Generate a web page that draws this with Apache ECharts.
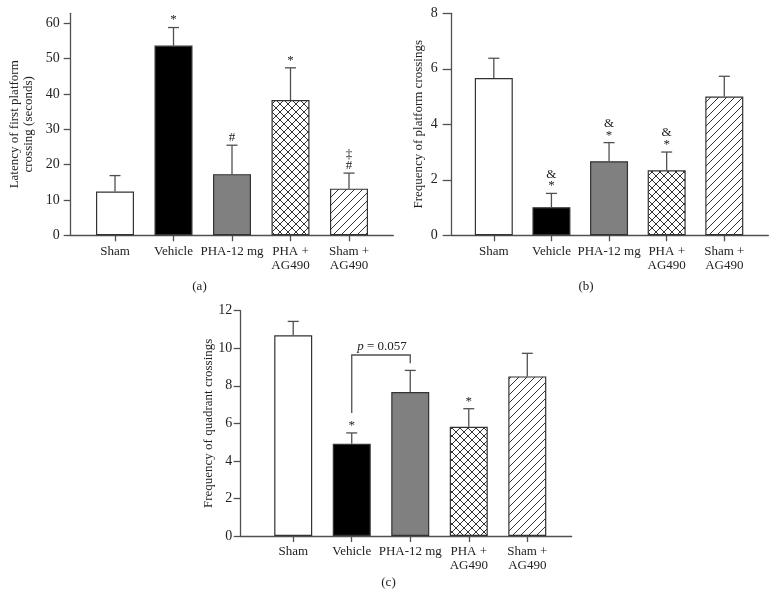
<!DOCTYPE html>
<html>
<head>
<meta charset="utf-8">
<script src="https://cdn.jsdelivr.net/npm/echarts@6/dist/echarts.min.js"></script>
<style>html,body{margin:0;padding:0;background:#fff}#c{width:776px;height:615px}</style>
</head>
<body>
<div id="c"></div>
<script>
// ---------- data ----------
const categories = ['Sham', 'Vehicle', 'PHA-12 mg', 'PHA +\nAG490', 'Sham +\nAG490'];

const latencyMean = [12.4, 53.7, 17.3, 38.3, 13.2];
const latencyUpper = [16.9, 58.8, 25.5, 47.4, 17.6];
const latencyMarks = [[], ['*'], ['#'], ['*'], ['#', '‡']];
const latencyTicks = [0, 10, 20, 30, 40, 50, 60];

const platformMean = [5.67, 1.01, 2.67, 2.34, 5.0];
const platformUpper = [6.38, 1.51, 3.34, 3.0, 5.73];
const platformMarks = [[], ['*', '&'], ['*', '&'], ['*', '&'], []];
const platformTicks = [0, 2, 4, 6, 8];

const quadrantMean = [10.69, 4.92, 7.67, 5.82, 8.5];
const quadrantUpper = [11.43, 5.49, 8.82, 6.78, 9.73];
const quadrantMarks = [[], ['*'], [], ['*'], []];
const quadrantTicks = [0, 2, 4, 6, 8, 10, 12];
// bracket: [fromIndex, toIndex, leftEnd, topValue, rightEnd]
const quadrantBracket = [[1, 2, 6.55, 9.64, 9.2]];
const bracketText = 'p = 0.057';

const panelLabels = ['(a)', '(b)', '(c)'];
const axisTitles = ['Latency of first platform\ncrossing (seconds)', 'Frequency of platform crossings', 'Frequency of quadrant crossings'];

// ---------- styling ----------
const FONT = '"Liberation Serif", "DejaVu Serif", serif';
const TXT = '#222';
const AX = '#505050';

function makePattern(size, cross) {
  const c = document.createElement('canvas');
  c.width = size; c.height = size;
  const g = c.getContext('2d');
  g.fillStyle = '#fff'; g.fillRect(0, 0, size, size);
  g.strokeStyle = '#333'; g.lineWidth = 1;
  g.beginPath();
  g.moveTo(-1, size + 1); g.lineTo(size + 1, -1);
  g.moveTo(-1, 1); g.lineTo(1, -1);
  g.moveTo(size - 1, size + 1); g.lineTo(size + 1, size - 1);
  if (cross) {
    g.moveTo(-1, -1); g.lineTo(size + 1, size + 1);
    g.moveTo(size - 1, -1); g.lineTo(size + 1, 1);
    g.moveTo(-1, size - 1); g.lineTo(1, size + 1);
  }
  g.stroke();
  return c;
}
const crossPat = { image: makePattern(8, true), repeat: 'repeat' };
const diagPat = { image: makePattern(8, false), repeat: 'repeat' };
const fills = ['#ffffff', '#000000', '#808080', crossPat, diagPat];

const panels = [
  { mean: latencyMean, upper: latencyUpper, marks: latencyMarks, ticks: latencyTicks, max: 60, interval: 10,
    axisX: 70.7, frameRight: 393.3, frameTop: 13.3, plotTop: 23.3, base: 235.3, gridLeft: 85.75, gridW: 292.5,
    nameGap: 35, tickLen: 7, labelMargin: 11 },
  { mean: platformMean, upper: platformUpper, marks: platformMarks, ticks: platformTicks, max: 8, interval: 2,
    axisX: 451.7, frameRight: 768.3, frameTop: 13.3, plotTop: 13.3, base: 235.3, gridLeft: 465.0, gridW: 288.1,
    nameGap: 26, tickLen: 9, labelMargin: 14 },
  { mean: quadrantMean, upper: quadrantUpper, marks: quadrantMarks, ticks: quadrantTicks, max: 12, interval: 2,
    axisX: 240.7, frameRight: 571.7, frameTop: 310.7, plotTop: 310.7, base: 536, gridLeft: 263.95, gridW: 292.6,
    nameGap: 25, tickLen: 7, labelMargin: 8.5 }
];
const labelPos = [[199.5, 287], [586, 287], [388.5, 583]];

const grid = [], xAxis = [], yAxis = [], series = [];
panels.forEach((p, k) => {
  const gi = k * 2;       // bar grid
  const fi = k * 2 + 1;   // frame grid
  grid.push({ left: p.gridLeft, top: p.plotTop, width: p.gridW, height: p.base - p.plotTop, outerBoundsMode: 'none', containLabel: false });
  grid.push({ left: p.axisX, top: p.frameTop, width: p.frameRight - p.axisX, height: p.base - p.frameTop, outerBoundsMode: 'none', containLabel: false });

  xAxis.push({
    type: 'category', gridIndex: gi, data: categories, boundaryGap: true,
    axisLine: { show: false },
    axisTick: { show: true, alignWithLabel: true, length: 6, lineStyle: { color: AX, width: 1.3 } },
    axisLabel: { interval: 0, margin: 9, color: TXT, fontFamily: FONT, fontSize: 13, lineHeight: 14, align: 'center' },
    splitLine: { show: false }
  });
  xAxis.push({
    type: 'value', gridIndex: fi, min: 0, max: 1,
    axisLine: { show: true, lineStyle: { color: AX, width: 1.3 } },
    axisTick: { show: false }, axisLabel: { show: false }, splitLine: { show: false }
  });
  yAxis.push({
    type: 'value', gridIndex: gi, min: 0, max: p.max, interval: p.interval,
    offset: p.gridLeft - p.axisX,
    axisLine: { show: false },
    axisTick: { show: true, length: p.tickLen, lineStyle: { color: AX, width: 1.3 } },
    axisLabel: { margin: p.labelMargin, color: TXT, fontFamily: FONT, fontSize: 14 },
    splitLine: { show: false }
  });
  yAxis.push({
    type: 'value', gridIndex: fi, min: 0, max: 1,
    name: axisTitles[k], nameLocation: 'middle', nameGap: p.nameGap,
    nameTextStyle: { color: TXT, fontFamily: FONT, fontSize: 13, lineHeight: 14 },
    axisLine: { show: true, lineStyle: { color: AX, width: 1.3 } },
    axisTick: { show: false }, axisLabel: { show: false }, splitLine: { show: false }
  });

  series.push({
    type: 'bar', xAxisIndex: gi, yAxisIndex: gi, barWidth: 38,
    data: p.mean.map((v, i) => ({ value: v, itemStyle: { color: fills[i], borderColor: '#333', borderWidth: 1.2 } })),
    silent: true, animation: false, z: 2
  });
  const marks = p.marks;
  series.push({
    type: 'custom', xAxisIndex: gi, yAxisIndex: gi, animation: false, silent: true, z: 3,
    data: p.mean.map((v, i) => [i, v, p.upper[i]]),
    renderItem: function (params, api) {
      const i = api.value(0);
      const a = api.coord([i, api.value(1)]);
      const b = api.coord([i, api.value(2)]);
      const ls = { stroke: AX, lineWidth: 1.3 };
      const ch = [
        { type: 'line', shape: { x1: a[0], y1: a[1], x2: b[0], y2: b[1] }, style: ls },
        { type: 'line', shape: { x1: b[0] - 5.5, y1: b[1], x2: b[0] + 5.5, y2: b[1] }, style: ls }
      ];
      (marks[i] || []).forEach((t, n) => {
        ch.push({ type: 'text', x: b[0], y: b[1] - 1 - n * 11.5,
          style: { text: t, fill: TXT, font: '13px ' + FONT, align: 'center', verticalAlign: 'bottom' } });
      });
      return { type: 'group', children: ch };
    }
  });
});

// bracket on panel (c)
series.push({
  type: 'custom', xAxisIndex: 4, yAxisIndex: 4, animation: false, silent: true, z: 4,
  data: quadrantBracket,
  renderItem: function (params, api) {
    const f = api.value(0), t = api.value(1);
    const p1 = api.coord([f, api.value(2)]);
    const p2 = api.coord([f, api.value(3)]);
    const p3 = api.coord([t, api.value(3)]);
    const p4 = api.coord([t, api.value(4)]);
    return { type: 'group', children: [
      { type: 'polyline', shape: { points: [p1, p2, p3, p4] }, style: { stroke: AX, lineWidth: 1.3, fill: null } },
      { type: 'text', x: (p2[0] + p3[0]) / 2 + 1, y: p2[1] - 2,
        style: { text: '{i|p}' + bracketText.slice(1), fill: TXT, font: '13px ' + FONT, align: 'center', verticalAlign: 'bottom',
          rich: { i: { fontStyle: 'italic', fontFamily: FONT, fontSize: 13, fill: TXT } } } }
    ] };
  }
});

const chart = echarts.init(document.getElementById('c'), null, { renderer: 'canvas' });
chart.setOption({
  animation: false,
  backgroundColor: '#fff',
  grid, xAxis, yAxis, series,
  graphic: panelLabels.map((t, k) => ({
    type: 'text', x: labelPos[k][0], y: labelPos[k][1],
    style: { text: t, fill: TXT, font: '13px ' + FONT, align: 'center', verticalAlign: 'middle', textAlign: 'center', textVerticalAlign: 'middle' }
  }))
});
</script>
</body>
</html>
